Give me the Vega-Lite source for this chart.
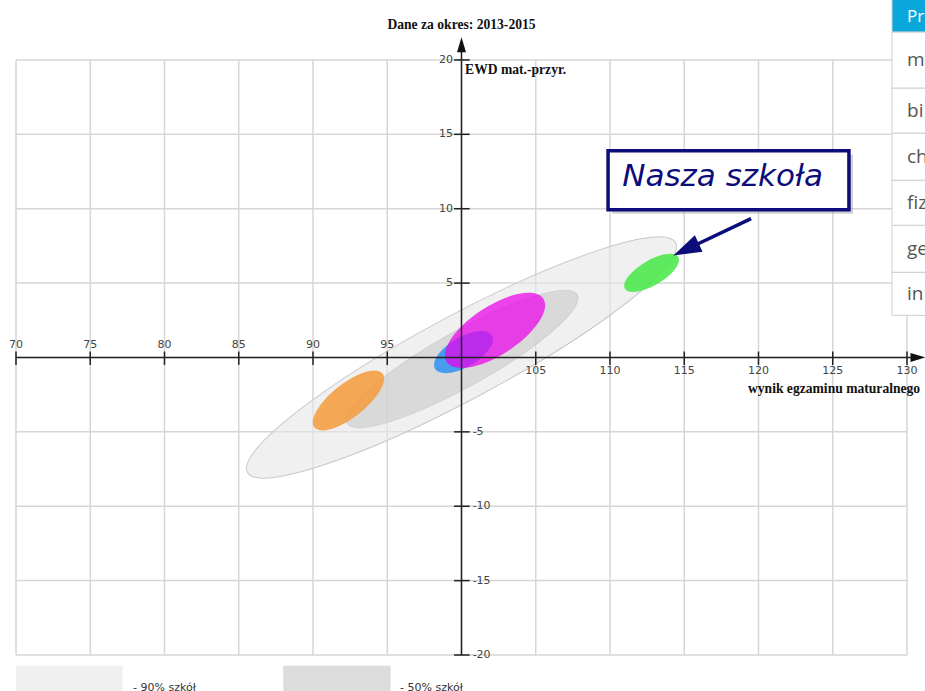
{
  "$schema": "https://vega.github.io/schema/vega-lite/v6.json",
  "width": 925,
  "height": 691,
  "autosize": {"type": "fit", "contains": "padding"},
  "padding": 0,
  "background": "white",
  "config": {"view": {"stroke": null}, "axis": {"disable": true}, "legend": {"disable": true}},
  "datasets": {
    "gridX": [{"v":70},{"v":75},{"v":80},{"v":85},{"v":90},{"v":95},{"v":100},{"v":105},{"v":110},{"v":115},{"v":120},{"v":125},{"v":130}],
    "gridY": [{"v":-20},{"v":-15},{"v":-10},{"v":-5},{"v":0},{"v":5},{"v":10},{"v":15},{"v":20}],
    "xl": [{"v":70},{"v":75},{"v":80},{"v":85},{"v":90},{"v":95}],
    "xr": [{"v":105},{"v":110},{"v":115},{"v":120},{"v":125},{"v":130}],
    "yp": [{"v":20},{"v":15},{"v":10},{"v":5}],
    "yn": [{"v":-5},{"v":-10},{"v":-15},{"v":-20}],
    "ellipses": [
      {"name":"90% szkół","x":100.0,"y":0.0,"a":16.36,"tilt":28.2},
      {"name":"50% szkół","x":100.05,"y":-0.1,"a":8.87,"tilt":29.2},
      {"name":"pomarańczowa","x":92.39,"y":-2.89,"a":2.92,"tilt":38.3},
      {"name":"niebieska","x":100.13,"y":0.36,"a":2.22,"tilt":30.4},
      {"name":"różowa","x":102.26,"y":1.82,"a":3.89,"tilt":33.3},
      {"name":"Nasza szkoła","x":112.8,"y":5.69,"a":2.09,"tilt":30.7}
    ],
    "table": [
      {"t":"m","top":21.87,"bot":18.10,"mid":19.99},
      {"t":"bi","top":18.10,"bot":15.07,"mid":16.58},
      {"t":"ch","top":15.07,"bot":11.91,"mid":13.49},
      {"t":"fiz","top":11.91,"bot":8.88,"mid":10.40},
      {"t":"ge","top":8.88,"bot":5.72,"mid":7.30},
      {"t":"in","top":5.72,"bot":2.83,"mid":4.27}
    ],
    "legendItems": [
      {"t":"- 90% szkół","x1":70,"x2":77.18,"tx":77.88},
      {"t":"- 50% szkół","x1":88.0,"x2":95.23,"tx":95.86}
    ]
  },
  "layer": [
    {
      "data": {"name": "gridX"},
      "mark": {"type": "rule", "color": "#d6d6d6", "strokeWidth": 1.5},
      "encoding": {
        "x": {"field": "v", "type": "quantitative", "scale": {"domain": [68.923, 131.212], "nice": false, "zero": false}, "axis": null},
        "y": {"datum": -20, "type": "quantitative", "scale": {"domain": [-22.42, 24.03], "nice": false, "zero": false}, "axis": null},
        "y2": {"datum": 20}
      }
    },
    {
      "data": {"name": "gridY"},
      "mark": {"type": "rule", "color": "#d6d6d6", "strokeWidth": 1.5},
      "encoding": {
        "y": {"field": "v", "type": "quantitative", "axis": null},
        "x": {"datum": 70, "type": "quantitative", "axis": null},
        "x2": {"datum": 130}
      }
    },
    {
      "data": {"name": "ellipses"},
      "mark": {"type": "point", "filled": true, "opacity": 1, "strokeWidth": 1},
      "encoding": {
        "x": {"field": "x", "type": "quantitative", "axis": null},
        "y": {"field": "y", "type": "quantitative", "axis": null},
        "size": {"field": "a", "type": "quantitative", "scale": {"type": "pow", "exponent": 2, "domain": [0, 20], "range": [0, 352836]}, "legend": null},
        "angle": {"field": "tilt", "type": "quantitative", "scale": {"domain": [0, 360], "range": [360, 0]}, "legend": null},
        "shape": {"field": "name", "type": "nominal", "legend": null, "scale": {
          "domain": ["90% szkół","50% szkół","pomarańczowa","niebieska","różowa","Nasza szkoła"],
          "range": [
            "M1,0C1,0.0955,0.5523,0.173,0,0.173C-0.5523,0.173,-1,0.0955,-1,0C-1,-0.0955,-0.5523,-0.173,0,-0.173C0.5523,-0.173,1,-0.0955,1,0Z",
            "M1,0C1,0.116,0.5523,0.21,0,0.21C-0.5523,0.21,-1,0.116,-1,0C-1,-0.116,-0.5523,-0.21,0,-0.21C0.5523,-0.21,1,-0.116,1,0Z",
            "M1,0C1,0.2154,0.5523,0.39,0,0.39C-0.5523,0.39,-1,0.2154,-1,0C-1,-0.2154,-0.5523,-0.39,0,-0.39C0.5523,-0.39,1,-0.2154,1,0Z",
            "M1,0C1,0.2485,0.5523,0.45,0,0.45C-0.5523,0.45,-1,0.2485,-1,0C-1,-0.2485,-0.5523,-0.45,0,-0.45C0.5523,-0.45,1,-0.2485,1,0Z",
            "M1,0C1,0.232,0.5523,0.42,0,0.42C-0.5523,0.42,-1,0.232,-1,0C-1,-0.232,-0.5523,-0.42,0,-0.42C0.5523,-0.42,1,-0.232,1,0Z",
            "M1,0C1,0.2209,0.5523,0.4,0,0.4C-0.5523,0.4,-1,0.2209,-1,0C-1,-0.2209,-0.5523,-0.4,0,-0.4C0.5523,-0.4,1,-0.2209,1,0Z"
          ]}},
        "color": {"field": "name", "type": "nominal", "legend": null, "scale": {
          "domain": ["90% szkół","50% szkół","pomarańczowa","niebieska","różowa","Nasza szkoła"],
          "range": ["rgba(230,230,230,0.6)","rgba(207,207,207,0.7)","rgba(245,154,58,0.85)","rgba(63,153,240,0.95)","rgba(234,0,234,0.72)","rgba(69,232,69,0.85)"]}},
        "stroke": {"field": "name", "type": "nominal", "legend": null, "scale": {
          "domain": ["90% szkół","50% szkół","pomarańczowa","niebieska","różowa","Nasza szkoła"],
          "range": ["#c8c8c8","rgba(190,190,190,0.5)","rgba(0,0,0,0)","rgba(0,0,0,0)","rgba(0,0,0,0)","rgba(0,0,0,0)"]}}
      }
    },
    {
      "data": {"values": [{"x1": 70, "x2": 130.8}]},
      "mark": {"type": "rule", "color": "#222", "strokeWidth": 1.5},
      "encoding": {
        "x": {"field": "x1", "type": "quantitative", "axis": null},
        "x2": {"field": "x2"},
        "y": {"datum": 0, "type": "quantitative", "axis": null}
      }
    },
    {
      "data": {"values": [{"y1": -20, "y2": 21.0}]},
      "mark": {"type": "rule", "color": "#222", "strokeWidth": 1.5},
      "encoding": {
        "y": {"field": "y1", "type": "quantitative", "axis": null},
        "y2": {"field": "y2"},
        "x": {"datum": 100, "type": "quantitative", "axis": null}
      }
    },
    {
      "data": {"values": [{"x": 100, "y": 21.03}]},
      "mark": {"type": "point", "filled": true, "opacity": 1, "color": "#111", "shape": "M0,-1L-0.6,1L0.6,1Z", "size": 225, "angle": 0},
      "encoding": {
        "x": {"field": "x", "type": "quantitative", "axis": null},
        "y": {"field": "y", "type": "quantitative", "axis": null}
      }
    },
    {
      "data": {"values": [{"x": 130.74, "y": 0}]},
      "mark": {"type": "point", "filled": true, "opacity": 1, "color": "#111", "shape": "M0,-1L-0.6,1L0.6,1Z", "size": 225, "angle": 90, "clip": true},
      "encoding": {
        "x": {"field": "x", "type": "quantitative", "axis": null},
        "y": {"field": "y", "type": "quantitative", "axis": null}
      }
    },
    {
      "data": {"name": "xl"},
      "mark": {"type": "rule", "color": "#222", "strokeWidth": 1.5},
      "encoding": {
        "x": {"field": "v", "type": "quantitative", "axis": null},
        "y": {"datum": -0.5, "type": "quantitative", "axis": null},
        "y2": {"datum": 0.4}
      }
    },
    {
      "data": {"name": "xr"},
      "mark": {"type": "rule", "color": "#222", "strokeWidth": 1.5},
      "encoding": {
        "x": {"field": "v", "type": "quantitative", "axis": null},
        "y": {"datum": -0.5, "type": "quantitative", "axis": null},
        "y2": {"datum": 0.4}
      }
    },
    {
      "data": {"name": "yp"},
      "mark": {"type": "rule", "color": "#222", "strokeWidth": 1.5},
      "encoding": {
        "y": {"field": "v", "type": "quantitative", "axis": null},
        "x": {"datum": 99.5, "type": "quantitative", "axis": null},
        "x2": {"datum": 100.55}
      }
    },
    {
      "data": {"name": "yn"},
      "mark": {"type": "rule", "color": "#222", "strokeWidth": 1.5},
      "encoding": {
        "y": {"field": "v", "type": "quantitative", "axis": null},
        "x": {"datum": 99.5, "type": "quantitative", "axis": null},
        "x2": {"datum": 100.55}
      }
    },
    {
      "data": {"name": "xl"},
      "mark": {"type": "text", "font": "DejaVu Sans", "fontSize": 11, "color": "#444", "align": "center", "baseline": "middle"},
      "encoding": {
        "x": {"field": "v", "type": "quantitative", "axis": null},
        "y": {"datum": 0.87, "type": "quantitative", "axis": null},
        "text": {"field": "v"}
      }
    },
    {
      "data": {"name": "xr"},
      "mark": {"type": "text", "font": "DejaVu Sans", "fontSize": 11, "color": "#444", "align": "center", "baseline": "middle"},
      "encoding": {
        "x": {"field": "v", "type": "quantitative", "axis": null},
        "y": {"datum": -0.94, "type": "quantitative", "axis": null},
        "text": {"field": "v"}
      }
    },
    {
      "data": {"name": "yp"},
      "mark": {"type": "text", "font": "DejaVu Sans", "fontSize": 11, "color": "#444", "align": "right", "baseline": "middle"},
      "encoding": {
        "y": {"field": "v", "type": "quantitative", "axis": null},
        "x": {"datum": 99.43, "type": "quantitative", "axis": null},
        "text": {"field": "v"}
      }
    },
    {
      "data": {"name": "yn"},
      "mark": {"type": "text", "font": "DejaVu Sans", "fontSize": 11, "color": "#444", "align": "left", "baseline": "middle"},
      "encoding": {
        "y": {"field": "v", "type": "quantitative", "axis": null},
        "x": {"datum": 100.75, "type": "quantitative", "axis": null},
        "text": {"field": "v"}
      }
    },
    {
      "data": {"values": [{"t": "Dane za okres: 2013-2015", "x": 100, "y": 22.34}]},
      "mark": {"type": "text", "font": "Liberation Serif", "fontWeight": "bold", "fontSize": 13.6, "color": "#111", "align": "center", "baseline": "middle"},
      "encoding": {
        "x": {"field": "x", "type": "quantitative", "axis": null},
        "y": {"field": "y", "type": "quantitative", "axis": null},
        "text": {"field": "t"}
      }
    },
    {
      "data": {"values": [{"t": "EWD mat.-przyr.", "x": 100.24, "y": 19.31}]},
      "mark": {"type": "text", "font": "Liberation Serif", "fontWeight": "bold", "fontSize": 13.6, "color": "#111", "align": "left", "baseline": "middle"},
      "encoding": {
        "x": {"field": "x", "type": "quantitative", "axis": null},
        "y": {"field": "y", "type": "quantitative", "axis": null},
        "text": {"field": "t"}
      }
    },
    {
      "data": {"values": [{"t": "wynik egzaminu maturalnego", "x": 119.29, "y": -2.09}]},
      "mark": {"type": "text", "font": "Liberation Serif", "fontWeight": "bold", "fontSize": 13.6, "color": "#111", "align": "left", "baseline": "middle", "clip": true},
      "encoding": {
        "x": {"field": "x", "type": "quantitative", "axis": null},
        "y": {"field": "y", "type": "quantitative", "axis": null},
        "text": {"field": "t"}
      }
    },
    {
      "data": {"values": [{"x1": 110.14, "x2": 126.36, "y1": 13.63, "y2": 9.66}]},
      "mark": {"type": "rect", "fill": "#9a9a9a", "opacity": 0.45},
      "encoding": {
        "x": {"field": "x1", "type": "quantitative", "axis": null},
        "x2": {"field": "x2"},
        "y": {"field": "y1", "type": "quantitative", "axis": null},
        "y2": {"field": "y2"}
      }
    },
    {
      "data": {"values": [{"x1": 109.87, "x2": 126.09, "y1": 13.9, "y2": 9.93}]},
      "mark": {"type": "rect", "fill": "white", "stroke": "#0c0c7a", "strokeWidth": 3.5},
      "encoding": {
        "x": {"field": "x1", "type": "quantitative", "axis": null},
        "x2": {"field": "x2"},
        "y": {"field": "y1", "type": "quantitative", "axis": null},
        "y2": {"field": "y2"}
      }
    },
    {
      "data": {"values": [{"t": "Nasza szkoła", "x": 117.58, "y": 11.5}]},
      "mark": {"type": "text", "font": "DejaVu Sans", "fontStyle": "italic", "fontSize": 31, "color": "#0c0c7a", "align": "center", "baseline": "alphabetic"},
      "encoding": {
        "x": {"field": "x", "type": "quantitative", "axis": null},
        "y": {"field": "y", "type": "quantitative", "axis": null},
        "text": {"field": "t"}
      }
    },
    {
      "data": {"values": [{"x1": 119.5, "y1": 9.33, "x2": 115.12, "y2": 7.26}]},
      "mark": {"type": "rule", "color": "#0c0c7a", "strokeWidth": 3.5},
      "encoding": {
        "x": {"field": "x1", "type": "quantitative", "axis": null},
        "y": {"field": "y1", "type": "quantitative", "axis": null},
        "x2": {"field": "x2"},
        "y2": {"field": "y2"}
      }
    },
    {
      "data": {"values": [{"x": 115.12, "y": 7.26}]},
      "mark": {"type": "point", "filled": true, "opacity": 1, "color": "#0c0c7a", "shape": "M0,-1L-0.65,1L0.65,1Z", "size": 784, "angle": 245},
      "encoding": {
        "x": {"field": "x", "type": "quantitative", "axis": null},
        "y": {"field": "y", "type": "quantitative", "axis": null}
      }
    },
    {
      "data": {"values": [{"x1": 128.99, "x2": 131.8, "y1": 24.2, "y2": 21.87}]},
      "mark": {"type": "rect", "fill": "#0aa8da", "stroke": "#cfcfcf", "strokeWidth": 1, "clip": true},
      "encoding": {
        "x": {"field": "x1", "type": "quantitative", "axis": null},
        "x2": {"field": "x2"},
        "y": {"field": "y1", "type": "quantitative", "axis": null},
        "y2": {"field": "y2"}
      }
    },
    {
      "data": {"name": "table"},
      "mark": {"type": "rect", "fill": "white", "stroke": "#cfcfcf", "strokeWidth": 1, "clip": true},
      "encoding": {
        "x": {"datum": 128.99, "type": "quantitative", "axis": null},
        "x2": {"datum": 131.8},
        "y": {"field": "top", "type": "quantitative", "axis": null},
        "y2": {"field": "bot"}
      }
    },
    {
      "data": {"values": [{"t": "Pr", "x": 130.0, "y": 22.88}]},
      "mark": {"type": "text", "font": "Open Sans", "fontSize": 17, "color": "white", "align": "left", "baseline": "middle", "clip": true},
      "encoding": {
        "x": {"field": "x", "type": "quantitative", "axis": null},
        "y": {"field": "y", "type": "quantitative", "axis": null},
        "text": {"field": "t"}
      }
    },
    {
      "data": {"name": "table"},
      "mark": {"type": "text", "font": "Open Sans", "fontSize": 19, "color": "#555", "align": "left", "baseline": "middle", "clip": true},
      "encoding": {
        "x": {"datum": 130.0, "type": "quantitative", "axis": null},
        "y": {"field": "mid", "type": "quantitative", "axis": null},
        "text": {"field": "t"}
      }
    },
    {
      "data": {"name": "legendItems"},
      "mark": {"type": "rect", "clip": true},
      "encoding": {
        "x": {"field": "x1", "type": "quantitative", "axis": null},
        "x2": {"field": "x2"},
        "y": {"datum": -20.73, "type": "quantitative", "axis": null},
        "y2": {"datum": -22.6},
        "color": {"field": "t", "type": "nominal", "legend": null, "scale": {"domain": ["- 90% szkół", "- 50% szkół"], "range": ["#f0f0f0", "#dcdcdc"]}}
      }
    },
    {
      "data": {"name": "legendItems"},
      "mark": {"type": "text", "font": "DejaVu Sans", "fontSize": 11, "color": "#333", "align": "left", "baseline": "middle", "clip": true},
      "encoding": {
        "x": {"field": "tx", "type": "quantitative", "axis": null},
        "y": {"datum": -22.21, "type": "quantitative", "axis": null},
        "text": {"field": "t"}
      }
    }
  ],
  "resolve": {"scale": {"color": "independent"}}
}
